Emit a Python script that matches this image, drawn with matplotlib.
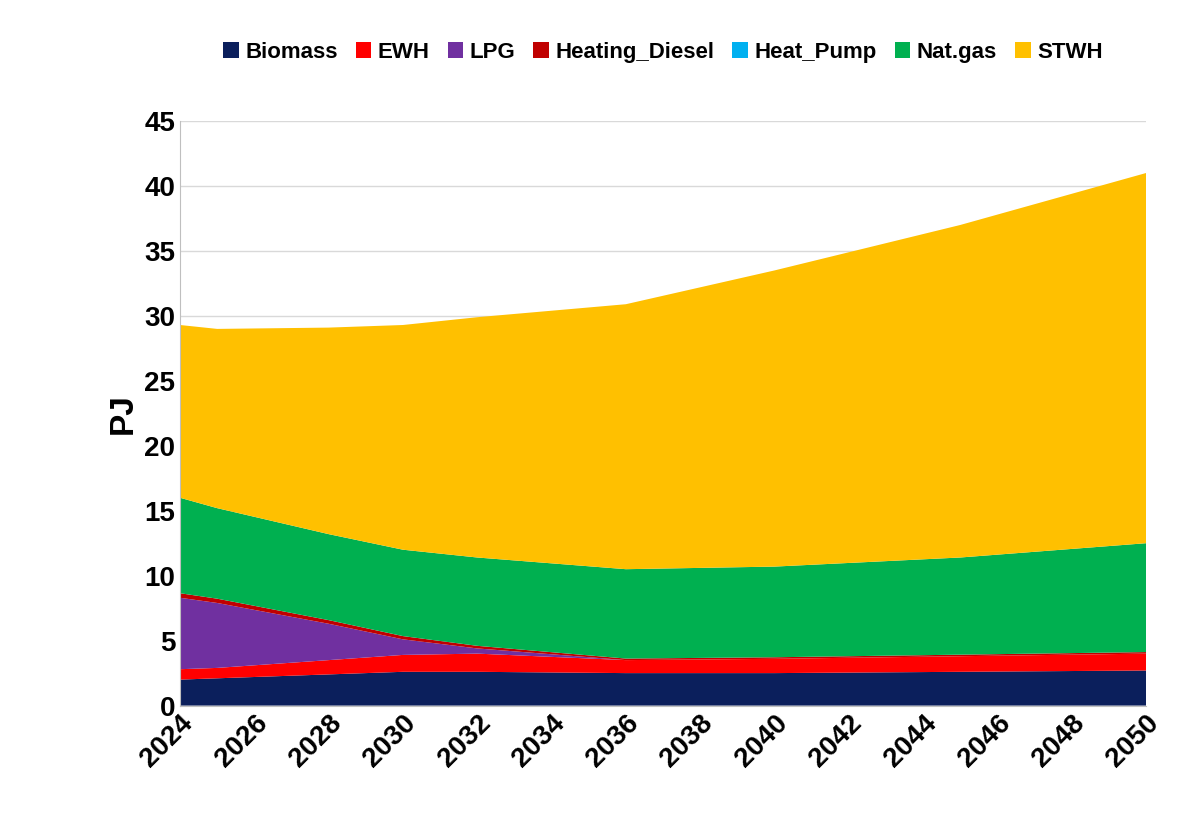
import matplotlib
matplotlib.use("Agg")
import matplotlib.pyplot as plt

years = [2024, 2025, 2028, 2030, 2032, 2036, 2040, 2045, 2050]
biomass = [2.0, 2.1, 2.4, 2.6, 2.6, 2.5, 2.5, 2.6, 2.7]
ewh = [0.8, 0.8, 1.1, 1.3, 1.4, 1.0, 1.1, 1.2, 1.3]
lpg = [5.5, 5.0, 2.8, 1.2, 0.4, 0.0, 0.0, 0.0, 0.0]
diesel = [0.35, 0.33, 0.28, 0.25, 0.2, 0.12, 0.12, 0.12, 0.12]
heat_pump = [0.0, 0.0, 0.0, 0.0, 0.0, 0.0, 0.0, 0.0, 0.0]
nat_gas = [7.35, 6.97, 6.62, 6.65, 6.8, 6.88, 6.98, 7.48, 8.38]
stwh = [13.3, 13.8, 15.9, 17.3, 18.5, 20.4, 22.8, 25.6, 28.5]

labels = ["Biomass", "EWH", "LPG", "Heating_Diesel", "Heat_Pump", "Nat.gas", "STWH"]
colors = ["#0b1f5c", "#ff0000", "#7030a0", "#c00000", "#00b0f0", "#00b050", "#ffc000"]
tick_years = list(range(2024, 2051, 2))

plt.rcParams["font.family"] = "Liberation Sans"
plt.rcParams["font.weight"] = "bold"

fig, ax = plt.subplots(figsize=(12, 8.35), dpi=100)
ax.stackplot(years, biomass, ewh, lpg, diesel, heat_pump, nat_gas, stwh,
             labels=labels, colors=colors, edgecolor="none")
ax.set_xlim(2024, 2050)
ax.set_ylim(0, 45)
ax.set_yticks(range(0, 46, 5))
ax.set_xticks(tick_years)
ax.tick_params(axis="x", labelsize=20, rotation=45, length=0)
ax.tick_params(axis="y", labelsize=20, length=0)
for lbl in ax.get_xticklabels():
    lbl.set_ha("right"); lbl.set_rotation_mode("anchor")
ax.set_ylabel("PJ", fontsize=24, fontweight="bold")
ax.grid(axis="y", color="#d9d9d9", linewidth=1)
ax.set_axisbelow(True)
for s in ["top", "right"]:
    ax.spines[s].set_visible(False)
ax.spines["left"].set_color("#bfbfbf"); ax.spines["bottom"].set_color("#bfbfbf")
ax.legend(loc="upper center", bbox_to_anchor=(0.5, 1.17), ncol=7, frameon=False,
          fontsize=16, handlelength=0.7, handleheight=0.7, columnspacing=0.8, handletextpad=0.3)

plt.subplots_adjust(left=0.15, right=0.955, top=0.855, bottom=0.155)
plt.savefig("out.png", dpi=100)
plt.close()
